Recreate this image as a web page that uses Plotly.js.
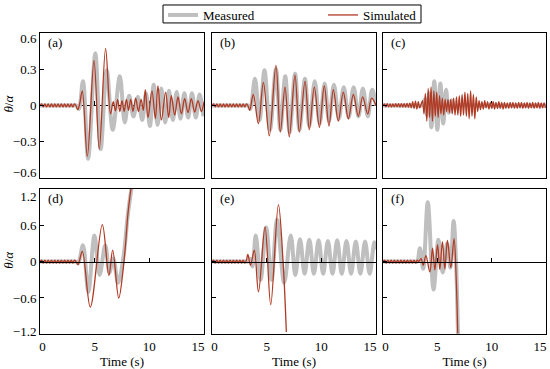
<!DOCTYPE html>
<html><head><meta charset="utf-8">
<script src="https://cdn.plot.ly/plotly-3.0.1.min.js"></script>
<style>html,body{margin:0;padding:0;background:#fff}#chart{width:550px;height:369px}</style>
</head><body><div id="chart"></div>
<script>
// ---- shared pre-event small wiggles (time in s, value θ/α) ----
const preT = [0,0.15,0.3,0.45,0.6,0.75,0.9,1.05,1.2,1.35,1.5,1.65,1.8,1.95,2.1,2.25,2.4,2.55,2.7,2.85,3.0,3.15];
const preTopY = [0,0.012,-0.012,0.012,-0.012,0.012,-0.012,0.012,-0.012,0.012,-0.012,0.012,-0.012,0.012,-0.012,0.012,-0.012,0.012,-0.012,0.012,-0.012,0.012];
const preBotY = [0,0.025,-0.025,0.025,-0.025,0.025,-0.025,0.025,-0.025,0.025,-0.025,0.025,-0.025,0.025,-0.025,0.025,-0.025,0.025,-0.025,0.025,-0.025,0.025];

// ---- panel (a) ----
const aSimT = preT.concat([3.3,3.45,3.62,3.87,4.33,4.94,5.42,6.0,6.45,6.7,6.9,7.1,7.3,7.5,7.7,7.9,8.1,8.3,8.5,8.75,9.0,9.25,9.45,9.63,9.88,10.24,10.55,10.79,11.1,11.49,11.77,12.01,12.32,12.62,12.93,13.23,13.54,13.84,14.15,14.45,14.76,15.0]);
const aSimY = preTopY.concat([-0.005,-0.035,0.01,0.12,-0.42,0.37,-0.36,0.47,-0.07,0.03,-0.045,0.05,-0.05,0.04,-0.05,0.05,-0.04,0.05,-0.05,0.06,-0.05,0.05,-0.04,0.13,-0.1,0.12,-0.11,0.16,-0.12,0.11,-0.1,0.08,-0.08,0.07,-0.07,0.055,-0.06,0.055,-0.055,0.04,-0.05,0.03]);
const aMeasT = [0,1,2,3,3.3,3.55,3.93,4.4,5.06,5.55,6.1,6.65,7.3,7.75,8.15,8.55,8.95,9.35,9.7,10.05,10.4,10.75,11.1,11.45,11.8,12.15,12.5,12.85,13.2,13.55,13.9,14.25,14.6,14.95];
const aMeasY = [0,0,0,0,0,-0.03,0.2,-0.44,0.43,-0.36,0.29,-0.2,0.24,-0.14,0.08,-0.09,0.07,-0.12,0.1,-0.17,0.17,-0.16,0.14,-0.14,0.12,-0.12,0.11,-0.11,0.1,-0.1,0.1,-0.1,0.09,-0.09];

// ---- panel (b) ----
const bSimT = preT.concat([3.3,3.45,3.78,4.24,4.70,5.24,5.85,6.25,6.68,7.07,7.59,7.99,8.51,8.9,9.36,9.82,10.27,10.7,11.1,11.55,12.01,12.47,12.93,13.38,13.78,14.24,14.6,15.0]);
const bSimY = preTopY.concat([-0.005,-0.04,0.09,-0.15,0.19,-0.25,0.33,-0.22,0.15,-0.26,0.25,-0.22,0.2,-0.2,0.15,-0.18,0.16,-0.17,0.13,-0.13,0.11,-0.11,0.09,-0.09,0.07,-0.07,0.06,0.0]);
const bMeasT = [0,1,2,3,3.3,3.5,3.93,4.35,4.8,5.3,5.85,6.25,6.7,7.1,7.6,8.0,8.5,8.9,9.4,9.85,10.3,10.7,11.15,11.6,12.05,12.5,12.95,13.4,13.8,14.25,14.65,15.0];
const bMeasY = [0,0,0,0,0,-0.03,0.22,-0.12,0.29,-0.2,0.3,-0.2,0.24,-0.22,0.26,-0.2,0.22,-0.17,0.2,-0.15,0.18,-0.13,0.17,-0.11,0.15,-0.1,0.15,-0.09,0.14,-0.09,0.13,0.0];

// ---- panel (c): simulated sampled every 0.13 s from t = 0 ----
const cSimStep = 0.13;
const cSimY = [
  0,0.012,-0.012,0.014,-0.012,0.012,-0.014,0.012,-0.012,0.014,
  -0.012,0.015,-0.014,0.015,-0.013,0.015,-0.015,0.016,-0.015,0.018,
  -0.02,0.03,-0.025,0.035,-0.03,0.03,-0.02,0.01,
  0.04,-0.07,0.1,-0.13,0.14,-0.1,0.15,-0.13,0.12,-0.09,
  0.11,-0.1,0.08,-0.07,0.06,-0.08,0.05,-0.05,0.05,-0.06,
  0.05,-0.07,0.06,-0.08,0.07,-0.08,0.08,-0.09,0.09,-0.08,
  0.11,-0.09,0.1,-0.11,0.12,-0.09,0.09,-0.11,0.07,-0.05,0.04,-0.035,
  0.03,-0.03,0.04,-0.02,0.03,-0.03,0.025,-0.025,0.03,-0.03,
  0.025,-0.025,0.03,-0.025,0.025,-0.03,0.025,-0.025,0.02,-0.025,
  0.025,-0.02,0.025,-0.025,0.02,-0.025,0.025,-0.02,0.025,-0.025,
  0.02,-0.02,0.025,-0.025,0.02,-0.02,0.025,-0.025,0.02,-0.02,
  0.025,-0.025,0.02,-0.02,0.02,-0.02];
const cMeasT = [0,1.5,3.0,3.6,3.85,4.05,4.25,4.45,4.72,5.0,5.28,5.55,5.8,6.05,6.3,6.6,7.0,9.0,12.0,15.0];
const cMeasY = [0,0,0,0,0.05,-0.08,0.1,-0.18,0.2,-0.2,0.18,-0.15,0.13,-0.06,0.04,-0.02,0,0,0,0];

// ---- panel (d) ----
const dSimT = preT.concat([3.3,3.48,3.87,4.6,5.7,6.3,6.65,7.2,7.68,8.05,8.35,8.7]);
const dSimY = preBotY.concat([0.0,-0.05,0.17,-0.75,0.61,-0.23,0.19,-0.6,0.0,0.8,1.25,1.7]);
const dMeasT = [0,1,2,3,3.3,3.5,3.93,4.42,4.98,5.45,5.97,6.35,6.7,7.15,7.65,8.05,8.45,8.8];
const dMeasY = [0,0,0,0,0,-0.03,0.27,-0.5,0.43,-0.22,0.27,-0.18,0.05,-0.35,0.1,0.8,1.3,1.7];

// ---- panel (e) ----
const eSimT = preT.concat([3.28,3.52,3.87,4.25,4.85,5.37,6.07,6.5,6.8]);
const eSimY = preBotY.concat([0.12,-0.06,0.19,-0.5,0.57,-0.71,0.94,0.0,-1.16]);
const eMeasT = [0,1,2,3,3.3,3.45,3.7,4.0,4.45,4.95,5.45,5.95,6.6,7.2,7.62,8.05,8.47,8.9,9.32,9.75,10.17,10.6,11.02,11.45,11.87,12.3,12.72,13.15,13.57,14.0,14.42,14.85,15.0];
const eMeasY = [0,0,0,0,0,0.05,-0.08,0.43,-0.3,0.56,-0.3,0.69,-0.35,0.43,-0.22,0.37,-0.2,0.36,-0.2,0.35,-0.2,0.34,-0.2,0.35,-0.2,0.34,-0.2,0.33,-0.2,0.33,-0.2,0.32,0.2];

// ---- panel (f) ----
const fSimT = preT.concat([3.3,3.5,3.7,3.95,4.31,4.56,4.77,5.02,5.23,5.47,5.69,5.93,6.24,6.54,6.72,6.88]);
const fSimY = preBotY.concat([0.0,0.05,-0.06,0.1,-0.17,0.22,-0.14,0.28,-0.13,0.33,-0.12,0.35,-0.1,0.38,-0.2,-1.18]);
const fMeasT = [0,1,2,3,3.15,3.4,3.7,4.12,4.65,5.1,5.5,5.9,6.2,6.5,6.72,6.9];
const fMeasY = [0,0,0,0,0,0.22,-0.12,0.98,-0.46,0.36,-0.18,0.3,-0.1,0.67,0.0,-1.2];

// ---- labels / ticks ----
const panelLabels = ['(a)','(b)','(c)','(d)','(e)','(f)'];
const xTicks = [0,5,10,15];
const zeroLineTicks = [5,10];
const yTicksTop = [-0.6,-0.3,0,0.3,0.6];
const yTicksBottom = [-1.2,-0.6,0,0.6,1.2];
const seriesNames = ['Measured','Simulated'];

// ---- styling / layout ----
const FONT = 'Liberation Serif';
const GRAY = '#bfbfbf';
const RED = '#b03a24';
const W = 550, H = 369;
const colPx = [[40,204],[212,376],[383,546]];
const rowPx = [[31.7,177.7],[188.3,334.3]];
const colDom = colPx.map(c => [c[0]/W, c[1]/W]);
const rowDom = rowPx.map(r => [1 - r[1]/H, 1 - r[0]/H]);
const XR = [0, 15];
const YR = [[-0.6, 0.6], [-1.2, 1.2]];

function fmt(v) { return v < 0 ? '\u2212' + String(-v) : String(v); }
// end tick labels are nudged inward by a few pixels, as in the reference
function nudged(vals, range, lenPx, lowPx, highPx) {
  const per = (range[1] - range[0]) / lenPx;
  return vals.map(v => v === range[0] ? v + lowPx * per : (v === range[1] ? v - highPx * per : v));
}

const panels = [
  {meas:[aMeasT,aMeasY], sim:{x:aSimT, y:aSimY}},
  {meas:[bMeasT,bMeasY], sim:{x:bSimT, y:bSimY}},
  {meas:[cMeasT,cMeasY], sim:{x0:0, dx:cSimStep, y:cSimY}},
  {meas:[dMeasT,dMeasY], sim:{x:dSimT, y:dSimY}},
  {meas:[eMeasT,eMeasY], sim:{x:eSimT, y:eSimY}},
  {meas:[fMeasT,fMeasY], sim:{x:fSimT, y:fSimY}}
];

const traces = [];
const tf = {family: FONT, size: 13, color: '#000'};
const layout = {
  width: W, height: H,
  margin: {l:0, r:0, t:0, b:0},
  paper_bgcolor: '#fff', plot_bgcolor: '#fff',
  font: tf,
  showlegend: true,
  legend: {
    orientation: 'h', x: 163/W, y: 1 + 1.5/H, xanchor: 'left', yanchor: 'top',
    borderwidth: 0, bgcolor: 'rgba(0,0,0,0)', font: tf,
    entrywidth: 115, entrywidthmode: 'pixels', itemwidth: 30
  },
  shapes: [{
    type: 'rect', xref: 'paper', yref: 'paper', layer: 'above',
    x0: 163/W, x1: 421/W, y0: 1 - 22/H, y1: 1 - 4/H,
    line: {color: '#000', width: 1}, fillcolor: 'rgba(0,0,0,0)'
  }],
  annotations: []
};

panels.forEach((p, i) => {
  const k = i + 1;
  const row = i < 3 ? 0 : 1;
  const col = i % 3;
  const xs = k === 1 ? '' : String(k);
  const xa = 'x' + xs, ya = 'y' + xs;
  traces.push({
    type: 'scatter', mode: 'lines', x: p.meas[0], y: p.meas[1],
    xaxis: xa, yaxis: ya, name: seriesNames[0], showlegend: k === 1, legendrank: 1,
    line: {color: GRAY, width: 4, shape: 'spline', smoothing: 1}, hoverinfo: 'skip'
  });
  traces.push(Object.assign({
    type: 'scatter', mode: 'lines', xaxis: xa, yaxis: ya,
    name: seriesNames[1], showlegend: k === 1, legendrank: 2,
    line: {color: RED, width: 1.3, shape: 'spline', smoothing: 1}, hoverinfo: 'skip'
  }, p.sim));

  const yt = row === 0 ? yTicksTop : yTicksBottom;
  const yLen = rowPx[row][1] - rowPx[row][0];
  const xLen = colPx[col][1] - colPx[col][0];
  layout['xaxis' + xs] = {
    domain: colDom[col], anchor: ya, range: XR,
    showline: true, mirror: true, linecolor: '#000', linewidth: 1,
    ticks: '', tickmode: 'array',
    tickvals: nudged(xTicks, XR, xLen, 2.5, 6), ticktext: xTicks.map(fmt),
    showticklabels: row === 1,
    showgrid: false, zeroline: false, tickfont: tf,
    title: row === 1 ? {text: 'Time (s)', font: tf, standoff: 2} : {text: ''}
  };
  layout['yaxis' + xs] = {
    domain: rowDom[row], anchor: xa, range: YR[row],
    showline: true, mirror: true, linecolor: '#000', linewidth: 1,
    ticks: '', tickmode: 'array',
    tickvals: nudged(yt, YR[row], yLen, row === 0 ? 6 : 3, row === 0 ? 5.5 : 8),
    ticktext: yt.map(fmt), showticklabels: col === 0,
    minor: {tickmode: 'array', tickvals: yt, ticks: 'inside', ticklen: 4, tickcolor: '#000', tickwidth: 1, showgrid: false},
    showgrid: false, zeroline: false, tickfont: tf
  };
  // zero axis line with small ticks at 5 and 10
  const zk = 6 + k;
  layout['xaxis' + zk] = {
    overlaying: xa, anchor: 'free', position: (rowDom[row][0] + rowDom[row][1]) / 2,
    range: XR, showline: true, linecolor: '#000', linewidth: 1,
    ticks: 'inside', ticklen: 4, tickcolor: '#000', tickwidth: 1,
    tickmode: 'array', tickvals: zeroLineTicks, showticklabels: false, showgrid: false, zeroline: false,
    layer: row === 0 ? 'below traces' : 'above traces'
  };
  traces.push({type: 'scatter', mode: 'lines', x: [], y: [], xaxis: 'x' + zk, yaxis: ya,
    showlegend: false, hoverinfo: 'skip'});
  layout.annotations.push({
    xref: xa + ' domain', yref: ya + ' domain', x: 0.035, y: 1.0,
    xanchor: 'left', yanchor: 'top', showarrow: false, text: panelLabels[i], font: tf
  });
});

// y-axis titles (θ/α), one per row
rowDom.forEach(d => {
  layout.annotations.push({
    xref: 'paper', yref: 'paper', x: 9/W, y: (d[0] + d[1]) / 2 + 0.005,
    xanchor: 'center', yanchor: 'middle', textangle: -90, showarrow: false,
    text: '<i>θ</i>/<i>α</i>', font: tf
  });
});

Plotly.newPlot('chart', traces, layout, {displayModeBar: false, staticPlot: true});
</script>
</body></html>
